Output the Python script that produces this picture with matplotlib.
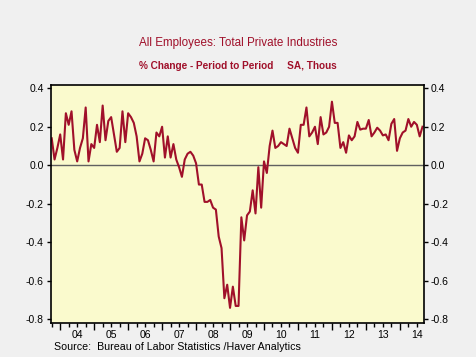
import numpy as np
import matplotlib.pyplot as plt
from matplotlib.ticker import FixedLocator, FixedFormatter

# Monthly % change, private payrolls, Oct 2003 - Sep 2014
start_year = 2003
start_month = 10
pct_change = [
    0.14, 0.03, 0.09, 0.16, 0.03, 0.27, 0.21, 0.28, 0.08, 0.02,
    0.09, 0.14, 0.30, 0.02, 0.11, 0.09, 0.21, 0.12, 0.31, 0.13,
    0.23, 0.25, 0.16, 0.07, 0.09, 0.28, 0.12, 0.27, 0.25, 0.22,
    0.15, 0.02, 0.06, 0.14, 0.13, 0.08, 0.02, 0.17, 0.15, 0.20,
    0.04, 0.15, 0.04, 0.11, 0.03, -0.01, -0.06, 0.03, 0.06, 0.07,
    0.05, 0.01, -0.10, -0.10, -0.19, -0.19, -0.18, -0.22, -0.23, -0.37,
    -0.43, -0.69, -0.62, -0.74, -0.63, -0.73, -0.73, -0.27, -0.39, -0.26,
    -0.24, -0.13, -0.25, -0.01, -0.22, 0.02, -0.04, 0.10, 0.18, 0.09,
    0.10, 0.12, 0.11, 0.10, 0.19, 0.14, 0.09, 0.065, 0.21, 0.21,
    0.30, 0.15, 0.17, 0.20, 0.11, 0.25, 0.16, 0.17, 0.20, 0.33,
    0.22, 0.22, 0.09, 0.12, 0.065, 0.155, 0.13, 0.15, 0.225, 0.185,
    0.19, 0.19, 0.235, 0.15, 0.17, 0.195, 0.18, 0.155, 0.16, 0.13,
    0.215, 0.24, 0.075, 0.14, 0.17, 0.18, 0.24, 0.20, 0.225, 0.21,
    0.15, 0.20,
]
years = list(range(2004, 2015))
year_labels = ["04", "05", "06", "07", "08", "09", "10", "11", "12", "13", "14"]
y_ticks = [0.4, 0.2, 0.0, -0.2, -0.4, -0.6, -0.8]

red = "#a0102a"
bg = "#f0f0f0"

# fractional year position of each month
t = start_year + (start_month - 1) / 12 + np.arange(len(pct_change)) / 12

fig = plt.figure(figsize=(4.76, 3.57), dpi=100, facecolor=bg)
ax = fig.add_axes([0.1065, 0.0961, 0.7835, 0.666])
ax.set_facecolor("#fafacd")

ax.axhline(0, color="#606060", lw=1.0, zorder=1)
ax.plot(t, pct_change, color=red, lw=1.5, zorder=2)

ax.set_xlim(2003.72, 2014.70)
ax.set_ylim(-0.817, 0.417)

# y axis, labels both sides
ax.set_yticks(y_ticks)
ax.set_yticklabels([f"{v:.1f}".replace("-0.0", "0.0") for v in y_ticks])
ax.tick_params(axis="y", direction="out", length=3, width=1, labelsize=7.5,
               left=True, right=True, labelleft=True, labelright=True, pad=2)

# x axis: year boundaries major, quarters minor, labels mid-year
ax.xaxis.set_major_locator(FixedLocator(years))
ax.xaxis.set_major_formatter(FixedFormatter([""] * len(years)))
quarters = []
qlabels = []
for y in range(2003, 2015):
    for q in (0.25, 0.5, 0.75):
        pos = y + q
        if 2003.72 < pos < 2014.70:
            quarters.append(pos)
            qlabels.append(year_labels[years.index(y)] if q == 0.5 and y in years else "")
ax.xaxis.set_minor_locator(FixedLocator(quarters))
ax.xaxis.set_minor_formatter(FixedFormatter(qlabels))
ax.tick_params(axis="x", which="major", direction="out", length=5, width=1, labelsize=7.5)
ax.tick_params(axis="x", which="minor", direction="out", length=3, width=1, labelsize=7.5, pad=2.5)

for side in ["top", "left", "bottom", "right"]:
    ax.spines[side].set_color("black")
    ax.spines[side].set_linewidth(1.2)

fig.text(0.5, 0.879, "All Employees: Total Private Industries", ha="center", va="center",
         color=red, fontsize=8.4, family="Liberation Sans")
fig.text(0.5, 0.816, "% Change - Period to Period     SA, Thous", ha="center", va="center",
         color=red, fontsize=7.2, family="Liberation Sans", fontweight="bold")
fig.text(0.113, 0.027, "Source:  Bureau of Labor Statistics /Haver Analytics", ha="left", va="center",
         color="black", fontsize=7.7, family="Liberation Sans")

for lbl in ax.get_xticklabels(minor=True) + ax.get_yticklabels():
    lbl.set_family("Liberation Sans")

fig.savefig("out.png", dpi=100, facecolor=bg)
